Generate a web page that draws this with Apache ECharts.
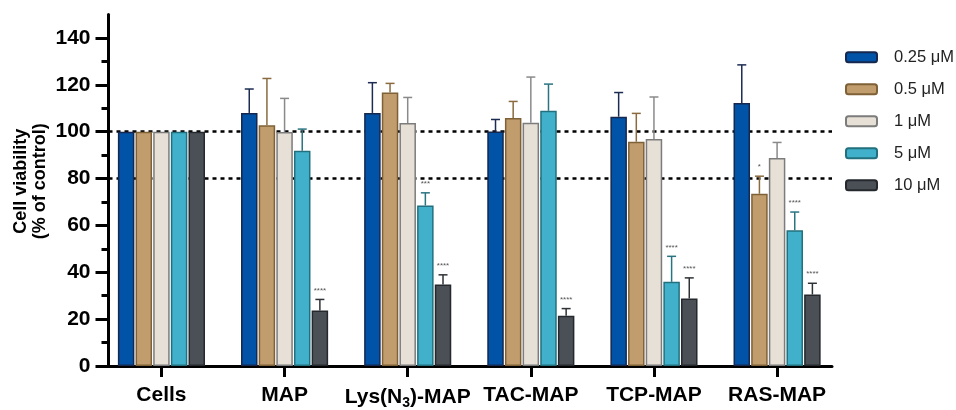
<!DOCTYPE html>
<html>
<head>
<meta charset="utf-8">
<script src="https://cdn.jsdelivr.net/npm/echarts@6/dist/echarts.min.js"></script>
<style>html,body{margin:0;padding:0;background:#fff;}#c{width:956px;height:410px;}</style>
</head>
<body>
<div id="c"></div>
<script>
const categories = ['Cells', 'MAP', 'Lys(N3)-MAP', 'TAC-MAP', 'TCP-MAP', 'RAS-MAP'];
const categoryLabels = ['Cells', 'MAP', 'Lys(N{sub|3})-MAP', 'TAC-MAP', 'TCP-MAP', 'RAS-MAP'];
const seriesNames = ['0.25 μM', '0.5 μM', '1 μM', '5 μM', '10 μM'];

const mean025 = [100, 108.0, 108.0, 100.1, 106.4, 112.2];
const mean05  = [100, 102.7, 116.7, 105.8, 95.7, 73.5];
const mean1   = [100, 99.9, 103.7, 103.8, 96.9, 88.8];
const mean5   = [100, 91.9, 68.5, 108.9, 35.9, 57.9];
const mean10  = [100, 23.7, 34.8, 21.4, 28.8, 30.5];

const sd025 = [0, 10.2, 12.9, 5.1, 10.3, 16.3];
const sd05  = [0, 20.0, 3.9, 7.1, 12.1, 7.5];
const sd1   = [0, 14.3, 10.9, 19.5, 17.9, 6.6];
const sd5   = [0, 9.2, 5.4, 11.4, 10.9, 7.8];
const sd10  = [0, 4.7, 4.1, 3.1, 8.8, 4.8];

const sig025 = ['', '', '', '', '', ''];
const sig05  = ['', '', '', '', '', '*'];
const sig1   = ['', '', '', '', '', ''];
const sig5   = ['', '', '***', '', '****', '****'];
const sig10  = ['', '****', '****', '****', '****', '****'];

const yTicks = [0, 20, 40, 60, 80, 100, 120, 140];
const yMinorTicks = [10, 30, 50, 70, 90, 110, 130];
const refLines = [100, 80];

const means = [mean025, mean05, mean1, mean5, mean10];
const sds = [sd025, sd05, sd1, sd5, sd10];
const sigs = [sig025, sig05, sig1, sig5, sig10];

const fillColors = ['#0053a6', '#c19c6c', '#e6e0d6', '#41b1cb', '#4b5057'];
const borderColors = ['#16284f', '#7f6137', '#7c7c7c', '#22707e', '#25282c'];
const errColors = ['#1c2b52', '#8a6b40', '#8a8a8a', '#2a7381', '#2e3135'];

const BAR_W = 16.5;
const BAR_GAP = 0.07;
const PITCH = BAR_W * (1 + BAR_GAP);
const FONT = '"Liberation Sans", Arial, Helvetica, sans-serif';

const catIdx = categories.map((c, i) => i);

const barSeries = seriesNames.map((name, s) => ({
  name: name,
  type: 'bar',
  barWidth: BAR_W,
  barGap: (BAR_GAP * 100) + '%',
  z: 3,
  itemStyle: { color: fillColors[s], borderColor: borderColors[s], borderWidth: 1.5 },
  data: catIdx.map(i => [i, means[s][i]])
}));

const errData = [];
seriesNames.forEach((n, s) => catIdx.forEach(i => errData.push([i, s, means[s][i], sds[s][i]])));

const errSeries = {
  type: 'custom',
  z: 4,
  silent: true,
  data: errData,
  encode: { x: 0, y: 2 },
  renderItem: function (params, api) {
    const ci = api.value(0), s = api.value(1), m = api.value(2), sd = api.value(3);
    const base = api.coord([ci, m]);
    const top = api.coord([ci, m + sd]);
    const x = base[0] + (s - 2) * PITCH;
    const children = [];
    if (sd > 0) {
      const st = { stroke: errColors[s], lineWidth: 1.5 };
      children.push({ type: 'line', shape: { x1: x, y1: base[1], x2: x, y2: top[1] }, style: st });
      children.push({ type: 'line', shape: { x1: x - 4.5, y1: top[1], x2: x + 4.5, y2: top[1] }, style: st });
    }
    const sg = sigs[s][ci];
    if (sg) {
      children.push({ type: 'text', style: { text: sg, x: x, y: top[1] - 9, align: 'center', verticalAlign: 'middle', fontSize: 8, fill: '#555', fontFamily: FONT } });
    }
    return { type: 'group', children: children };
  }
};

const refSeries = {
  type: 'line',
  data: [],
  z: 1,
  silent: true,
  markLine: {
    z: 1,
    silent: true,
    symbol: 'none',
    label: { show: false },
    lineStyle: { color: '#000', type: [4, 4], width: 2.5 },
    data: refLines.map(v => ({ yAxis: v }))
  }
};

const chart = echarts.init(document.getElementById('c'), null, { renderer: 'canvas' });
chart.setOption({
  animation: false,
  backgroundColor: '#fff',
  grid: { left: 108.5, right: 124, top: 14.5, bottom: 43, containLabel: false },
  legend: {
    data: seriesNames,
    orient: 'vertical',
    left: 845,
    top: 47.5,
    padding: 0,
    itemWidth: 31,
    itemHeight: 10,
    itemGap: 12.5,
    textStyle: { fontSize: 16.5, color: '#222', fontFamily: FONT, lineHeight: 19.5, padding: [0, 0, 0, 12] }
  },
  xAxis: {
    type: 'value',
    min: -0.43,
    max: 5.446,
    splitLine: { show: false },
    axisLine: { show: true, onZero: false, lineStyle: { color: '#000', width: 3 } },
    axisTick: { show: true, customValues: catIdx, length: 11, lineStyle: { color: '#000', width: 3 } },
    axisLabel: {
      customValues: catIdx,
      margin: 19,
      formatter: v => categoryLabels[Math.round(v)],
      fontSize: 21, fontWeight: 'bold', color: '#000', fontFamily: FONT,
      rich: { sub: { fontSize: 14, fontWeight: 'bold', color: '#000', fontFamily: FONT, padding: [11, 0, 0, 0] } }
    }
  },
  yAxis: [{
    type: 'value',
    min: 0,
    max: 150,
    interval: 10,
    name: 'Cell viability\n(% of control)',
    nameLocation: 'middle',
    nameGap: 59,
    nameMoveOverlap: false,
    nameTextStyle: { fontSize: 18, fontWeight: 'bold', color: '#000', fontFamily: FONT, lineHeight: 19, padding: [0, 0, 0, 18] },
    splitLine: { show: false },
    axisLine: { show: true, onZero: false, lineStyle: { color: '#000', width: 3 } },
    axisTick: { show: true, customValues: yTicks, length: 13, lineStyle: { color: '#000', width: 3 } },
    axisLabel: { customValues: yTicks, margin: 18, fontSize: 21, fontWeight: 'bold', color: '#000', fontFamily: FONT }
  }, {
    type: 'value',
    position: 'left',
    offset: 0,
    min: 0,
    max: 150,
    interval: 10,
    splitLine: { show: false },
    axisLine: { show: false, onZero: false },
    axisTick: { show: true, customValues: yMinorTicks, length: 7, lineStyle: { color: '#000', width: 3 } },
    axisLabel: { show: false }
  }],
  series: [refSeries].concat(barSeries).concat([errSeries])
});
</script>
</body>
</html>
